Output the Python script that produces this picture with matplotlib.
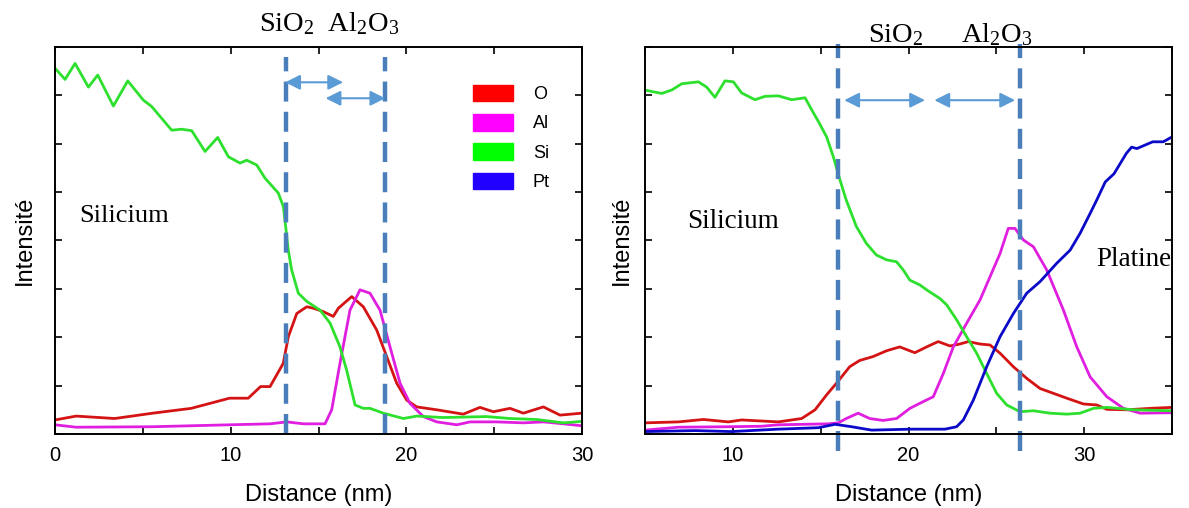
import matplotlib
matplotlib.use("Agg")
import matplotlib.pyplot as plt
from matplotlib.patches import Patch

plt.rcParams['font.family'] = ['Liberation Sans', 'DejaVu Sans']
plt.rcParams['mathtext.fontset'] = 'custom'
plt.rcParams['mathtext.rm'] = 'Liberation Serif'
plt.rcParams['mathtext.it'] = 'Liberation Serif:italic'

# ---------------- data: left panel ----------------
L_si_x = [0, 0.57, 1.14, 1.9, 2.43, 3.32, 4.14, 5.03, 5.5, 6.64, 7.21, 7.78, 8.54, 9.26, 9.87, 10.53,
          10.91, 11.48, 11.95, 12.71, 13.0, 13.28, 13.47, 13.85, 14.33, 15.09, 15.66, 16.22, 16.6,
          17.08, 17.55, 17.93, 18.69, 19.83, 20.59, 22.1, 24.57, 25.9, 27.42, 28.94, 29.98]
L_si_y = [7.56, 7.33, 7.66, 7.17, 7.42, 6.78, 7.30, 6.90, 6.77, 6.28, 6.30, 6.27, 5.84, 6.13, 5.73, 5.60,
          5.66, 5.56, 5.29, 4.98, 4.70, 3.80, 3.39, 2.91, 2.74, 2.56, 2.29, 1.80, 1.32,
          0.60, 0.53, 0.53, 0.43, 0.32, 0.37, 0.34, 0.36, 0.32, 0.30, 0.23, 0.26]
L_o_x = [0, 1.2, 3.4, 5.56, 7.75, 9.93, 11.0, 11.7, 12.24, 12.99, 13.28, 13.76, 14.33, 14.71, 15.27,
         15.84, 16.13, 16.89, 17.55, 18.31, 18.88, 19.45, 20.02, 20.59, 21.73, 23.24, 24.19, 24.95,
         25.9, 26.66, 27.8, 28.75, 29.98]
L_o_y = [0.29, 0.37, 0.32, 0.43, 0.53, 0.74, 0.74, 0.98, 0.98, 1.46, 2.01, 2.49, 2.63, 2.60, 2.53,
         2.43, 2.60, 2.84, 2.63, 2.15, 1.60, 1.05, 0.70, 0.56, 0.50, 0.41, 0.55, 0.46,
         0.53, 0.43, 0.56, 0.39, 0.43]
L_al_x = [0, 1.2, 5.56, 9.93, 12.24, 13.19, 14.14, 15.37, 15.75, 16.22, 16.79, 17.36, 17.93, 18.5,
          19.07, 19.64, 20.21, 20.97, 21.73, 22.87, 23.63, 25.15, 26.66, 27.8, 28.94, 29.98]
L_al_y = [0.19, 0.14, 0.15, 0.19, 0.21, 0.25, 0.21, 0.21, 0.50, 1.46, 2.56, 2.98, 2.91, 2.56,
          1.80, 1.05, 0.63, 0.36, 0.25, 0.19, 0.25, 0.25, 0.23, 0.25, 0.21, 0.17]
L_interfaces = [13.16, 18.8]

# ---------------- data: right panel ----------------
R_si_x = [5.0, 5.38, 5.95, 6.52, 7.09, 8.04, 8.51, 8.98, 9.55, 10.03, 10.5, 11.26, 11.83, 12.59, 13.35,
          14.11, 14.49, 14.87, 15.34, 15.72, 16.1, 16.45, 17.03, 17.6, 18.17, 18.75, 19.32, 19.7,
          20.08, 20.65, 21.03, 21.79, 22.17, 22.74, 23.31, 23.88, 24.45, 25.02, 25.59, 26.35,
          27.11, 28.06, 29.01, 29.77, 30.53, 31.29, 32.81, 35.0]
R_si_y = [7.11, 7.08, 7.04, 7.11, 7.24, 7.28, 7.17, 6.96, 7.30, 7.28, 7.05, 6.91, 6.98, 6.99, 6.91,
          6.95, 6.70, 6.46, 6.14, 5.73, 5.25, 4.84, 4.29, 3.94, 3.70, 3.60, 3.56, 3.39,
          3.18, 3.08, 2.98, 2.80, 2.67, 2.36, 2.01, 1.67, 1.25, 0.84, 0.60, 0.46,
          0.48, 0.43, 0.41, 0.43, 0.53, 0.55, 0.50, 0.48]
R_o_x = [5.0, 6.9, 8.32, 9.74, 10.5, 12.59, 13.92, 14.68, 15.34, 15.9, 16.65, 17.22, 17.98, 18.75,
         19.5, 20.36, 21.03, 21.69, 22.36, 22.93, 23.4, 24.07, 24.64, 25.21, 25.97, 26.73, 27.49,
         28.25, 29.01, 29.96, 30.72, 31.29, 32.43, 33.76, 35.0]
R_o_y = [0.23, 0.25, 0.30, 0.25, 0.29, 0.25, 0.32, 0.50, 0.81, 1.05, 1.39, 1.52, 1.60, 1.72,
         1.80, 1.68, 1.80, 1.91, 1.82, 1.86, 1.91, 1.86, 1.84, 1.67, 1.39, 1.15, 0.94,
         0.84, 0.74, 0.62, 0.60, 0.51, 0.50, 0.53, 0.55]
R_al_x = [5.0, 6.9, 9.74, 11.64, 12.59, 15.44, 16.0, 16.46, 17.13, 17.79, 18.55, 19.32, 20.08, 20.84,
          21.41, 21.98, 22.55, 23.31, 24.07, 24.64, 25.21, 25.68, 26.06, 26.54, 27.11, 27.87, 28.82,
          29.58, 30.34, 31.29, 32.24, 33.19, 35.0]
R_al_y = [0.08, 0.14, 0.15, 0.16, 0.19, 0.21, 0.23, 0.32, 0.43, 0.32, 0.28, 0.32, 0.53, 0.67,
          0.77, 1.25, 1.80, 2.29, 2.77, 3.25, 3.73, 4.25, 4.25, 4.01, 3.87, 3.39, 2.56,
          1.80, 1.18, 0.77, 0.53, 0.43, 0.44]
R_pt_x = [5.0, 7.85, 9.93, 12.59, 14.87, 15.82, 16.76, 17.9, 20.18, 22.08, 22.74, 23.12, 23.69, 24.45,
          25.21, 25.97, 26.73, 27.49, 28.44, 29.2, 29.77, 30.34, 30.72, 31.2, 31.7, 32.4, 32.7,
          33.0, 33.9, 34.5, 35.0]
R_pt_y = [0.05, 0.07, 0.05, 0.10, 0.13, 0.20, 0.15, 0.08, 0.10, 0.10, 0.15, 0.29, 0.70, 1.39,
          2.01, 2.49, 2.91, 3.15, 3.53, 3.80, 4.15, 4.56, 4.84, 5.21, 5.38, 5.80, 5.93,
          5.90, 6.04, 6.04, 6.14]
R_interfaces = [16.0, 26.35]

legend_labels = ['O', 'Al', 'Si', 'Pt']
legend_colors = ['#ff0000', '#ff00ff', '#00ff00', '#2200ff']

C_O, C_AL, C_SI, C_PT = '#d41414', '#e01ee0', '#2ee02e', '#0a0ac8'
C_DASH = '#4a7ebb'
C_ARROW = '#5b9bd5'

fig = plt.figure(figsize=(11.89, 5.08), dpi=100)
axL = fig.add_axes([0.0463, 0.1457, 0.4432, 0.7618])
axR = fig.add_axes([0.5425, 0.1457, 0.4432, 0.7618])

lw = 2.0

def style(ax, xlim, xticks, xlabels, pad_y):
    ax.set_xlim(*xlim)
    ax.set_ylim(0, 8)
    ax.set_xticks(xticks)
    ax.set_xticklabels(xlabels)
    ax.set_yticks(range(0, 9))
    ax.set_yticklabels([])
    ax.tick_params(direction='in', top=True, right=True, length=5, width=1.2,
                   labelsize=14.5, pad=9)
    for s in ax.spines.values():
        s.set_linewidth(1.4)
    ax.set_xlabel('Distance (nm)', fontsize=17, labelpad=13)
    ax.set_ylabel('Intensité', fontsize=17, labelpad=pad_y)

# left
axL.plot(L_o_x, L_o_y, color=C_O, lw=lw)
axL.plot(L_al_x, L_al_y, color=C_AL, lw=lw)
axL.plot(L_si_x, L_si_y, color=C_SI, lw=lw)
style(axL, (0, 30), [0, 5, 10, 15, 20, 25, 30], ['0', '', '10', '', '20', '', '30'], 4.5)
for xv in L_interfaces:
    axL.plot([xv, xv], [0, 7.8], color=C_DASH, lw=3.2, dashes=(4.5, 2.3), clip_on=False)
arrow_kw = dict(arrowstyle='<|-|>,head_length=0.9,head_width=0.45', color=C_ARROW, lw=1.5,
                shrinkA=0, shrinkB=0)
axL.annotate('', xy=(16.4, 7.27), xytext=(13.1, 7.27), arrowprops=arrow_kw)
axL.annotate('', xy=(18.8, 6.94), xytext=(15.4, 6.94), arrowprops=arrow_kw)
axL.text(15.6, 8.2, r'$\mathrm{SiO_2}\ \ \mathrm{Al_2O_3}$', fontsize=20.5, ha='center', va='bottom')
axL.text(1.4, 4.5, 'Silicium', fontsize=19, family='Liberation Serif', ha='left', va='center')
handles = [Patch(facecolor=c, edgecolor=c) for c in legend_colors]
axL.legend(handles, legend_labels, loc='upper left', bbox_to_anchor=(0.763, 0.945), frameon=False,
           fontsize=13, handlelength=2.2, handleheight=1.05, labelspacing=0.6, handletextpad=1.1)

# right
axR.plot(R_o_x, R_o_y, color=C_O, lw=lw)
axR.plot(R_al_x, R_al_y, color=C_AL, lw=lw)
axR.plot(R_si_x, R_si_y, color=C_SI, lw=lw)
axR.plot(R_pt_x, R_pt_y, color=C_PT, lw=lw)
style(axR, (5, 35), [5, 10, 15, 20, 25, 30, 35], ['', '10', '', '20', '', '30', ''], 0)
for xv in R_interfaces:
    axR.plot([xv, xv], [-0.35, 8.07], color=C_DASH, lw=3.2, dashes=(4.5, 2.3), clip_on=False)
axR.annotate('', xy=(20.94, 6.90), xytext=(16.34, 6.90), arrowprops=arrow_kw)
axR.annotate('', xy=(26.07, 6.90), xytext=(21.47, 6.90), arrowprops=arrow_kw)
axR.text(19.3, 7.98, r'$\mathrm{SiO_2}$', fontsize=20.5, ha='center', va='bottom')
axR.text(25.0, 7.98, r'$\mathrm{Al_2O_3}$', fontsize=20.5, ha='center', va='bottom')
axR.text(7.4, 4.4, 'Silicium', fontsize=19.5, family='Liberation Serif', ha='left', va='center')
axR.text(30.7, 3.6, 'Platine', fontsize=19.5, family='Liberation Serif', ha='left', va='center',
         clip_on=False)

fig.savefig('out.png', dpi=100)
